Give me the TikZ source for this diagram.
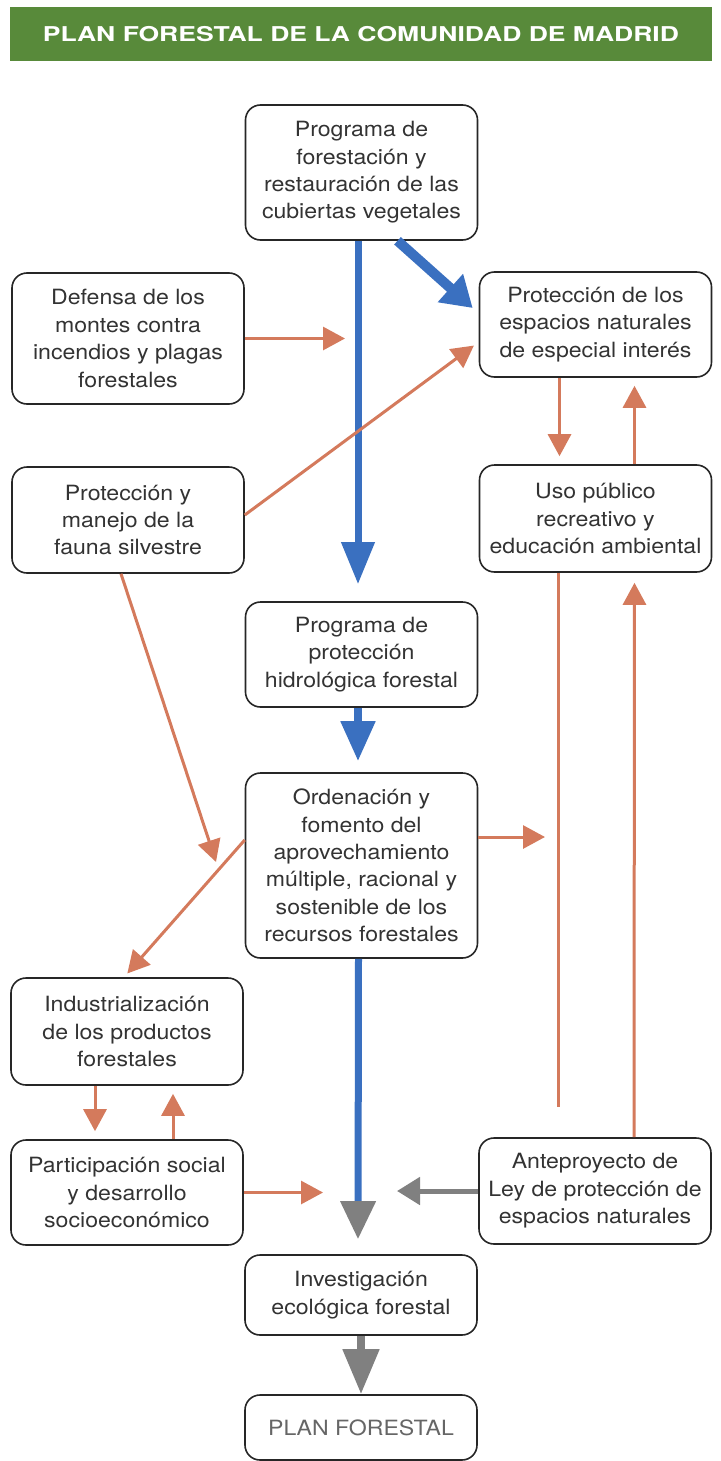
\documentclass[tikz,border=0pt]{standalone}
\usepackage{fontspec}
\setmainfont[FakeStretch=1.1]{TeX Gyre Heros}
\newfontfamily\titlefont[FakeStretch=1.3]{TeX Gyre Heros}
\usetikzlibrary{arrows.meta}
\definecolor{plangreen}{RGB}{88,138,58}
\definecolor{planblue}{RGB}{58,112,192}
\definecolor{planorange}{RGB}{212,122,92}
\definecolor{plangray}{RGB}{128,128,128}
\begin{document}
\begin{tikzpicture}[x=0.5pt,y=-0.5pt]
    \tikzset{box/.style = {draw=black!85,line width=0.8pt,rounded corners=7.5pt,minimum width=116pt,align=center,inner sep=2pt,font=\fontsize{10.5}{13.7}\selectfont,text=black!80},
    mainflow/.style = {draw=planblue,line width=3.5pt,-{Triangle[width=16pt,length=21pt]}},
    link/.style = {draw=planorange,line width=1.5pt,-{Triangle[width=11.5pt,length=11pt]}},
    plainlink/.style = {draw=planorange,line width=1.5pt}}
    \useasboundingbox (0,0) rectangle (720,1461);
    % title bar
    \node[fill=plangreen,minimum width=351pt,minimum height=27pt,text=white,font=\titlefont\bfseries\fontsize{10.2}{12}\selectfont] (title) at (361,34) {PLAN FORESTAL DE LA COMUNIDAD DE MADRID};

    % centre column
    \node[box,minimum height=67.5pt] (forest) at (361.5,172.5) {Programa de\\forestación y\\restauración de las\\cubiertas vegetales};
    \node[box,minimum height=52.5pt] (hidro) at (361.5,654.5) {Programa de\\protección\\hidrológica forestal};
    \node[box,minimum height=92.5pt] (orden) at (361.5,865.5) {Ordenación y\\fomento del\\aprovechamiento\\múltiple, racional y\\sostenible de los\\recursos forestales};
    \node[box,minimum height=40pt] (invest) at (361,1295) {Investigación\\ecológica forestal};
    \node[box,minimum height=32.5pt,text=black!60] (plan) at (361,1427.5) {PLAN FORESTAL};

    % left column
    \node[box,minimum height=65.5pt] (defensa) at (128,338.5) {Defensa de los\\montes contra\\incendios y plagas\\forestales};
    \node[box,minimum height=53pt] (fauna) at (128,520) {Protección y\\manejo de la\\fauna silvestre};
    \node[box,minimum height=53.5pt] (indus) at (127,1031.5) {Industrialización\\de los productos\\forestales};
    \node[box,minimum height=52.5pt] (partic) at (127,1192.5) {Participación social\\y desarrollo\\socioeconómico};

    % right column
    \node[box,minimum height=52.5pt] (espacios) at (595.5,324.5) {Protección de los\\espacios naturales\\de especial interés};
    \node[box,minimum height=53.5pt] (uso) at (595.5,518.5) {Uso público\\recreativo y\\educación ambiental};
    \node[box,minimum height=53pt] (antep) at (595,1191) {Anteproyecto de\\Ley de protección de\\espacios naturales};

    % free ends
    \coordinate (defensa-in) at (345,338.5);
    \coordinate (fauna-out) at (216,862);
    \coordinate (orden-out) at (545,837);
    \coordinate (uso-foot) at (558,1107);
    \coordinate (partic-out) at (323,1192.5);
    \coordinate (antep-out) at (397,1191);

    % blue flow
    \draw[mainflow]([xshift=-1.75pt]forest.south) --([xshift=-1.75pt,yshift=8.5pt]hidro.north);
    \draw[mainflow,line width=5pt,-{Triangle[width=18pt,length=15pt]}]([xshift=18pt]forest.south) --([xshift=-3pt,yshift=8.25pt]espacios.west);
    \draw[mainflow,line width=4pt,-{Triangle[width=16.5pt,length=20pt]}]([xshift=-1.75pt]hidro.south) --([xshift=-1.75pt,yshift=5.5pt]orden.north);
    \draw[mainflow,-{Triangle[width=17pt,length=19pt,color=plangray]}]([xshift=-1.5pt]orden.south) --([xshift=-1.5pt,yshift=7.5pt]invest.north);
    \draw[mainflow,draw=plangray,line width=4pt,-{Triangle[width=17.5pt,length=22.5pt]}](invest.south) --(plan.north);

    % orange links
    \draw[link](defensa.east) --(defensa-in);
    \draw[link,shorten >=3pt]([yshift=2.5pt]fauna.east) --([yshift=-8.75pt]espacios.west);
    \draw[link,shorten >=4pt]([xshift=-18pt]espacios.south) --([xshift=-18pt]uso.north);
    \draw[link,shorten >=4pt]([xshift=19.5pt]uso.north) --([xshift=19.5pt]espacios.south);
    \draw[plainlink]([xshift=-18.75pt]uso.south) --(uso-foot);
    \draw[link]([yshift=14.25pt]orden.east) --(orden-out);
    \draw[link,shorten >=5pt]([xshift=19.5pt]antep.north) --([xshift=19.5pt]uso.south);
    \draw[link]([xshift=-3.5pt]fauna.south) --(fauna-out);
    \draw[link,shorten >=2.5pt]([yshift=12.75pt]orden.west) --([xshift=-1.5pt]indus.north);
    \draw[link,shorten >=4pt]([xshift=-16pt]indus.south) --([xshift=-16pt]partic.north);
    \draw[link,shorten >=4pt]([xshift=23pt]partic.north) --([xshift=23pt]indus.south);
    \draw[link](partic.east) --(partic-out);
    \draw[link,draw=plangray,line width=2.5pt,-{Triangle[width=13.5pt,length=11.5pt]}](antep.west) --(antep-out);
\end{tikzpicture}
\end{document}
